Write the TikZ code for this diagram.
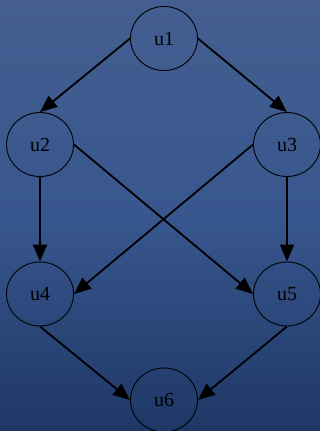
\documentclass[tikz,border=0pt]{standalone}
\usepackage{fontspec}
\setmainfont{Liberation Serif}
\usetikzlibrary{shapes.geometric,arrows.meta}

\definecolor{bgtop}{HTML}{445E90}
\definecolor{bgmid}{HTML}{38578E}
\definecolor{bgbot}{HTML}{1E3766}

\tikzset{
  vertex/.style={ellipse, draw=black, line width=0.9pt, minimum width=67pt,
    minimum height=64pt, inner sep=0pt, font=\fontsize{20}{22}\selectfont},
  edge/.style={line width=1.8pt, draw=black,
    -{Triangle[length=17pt,width=14pt]}},
}

\begin{document}
\begin{tikzpicture}[x=1pt,y=-1pt]
  % backdrop
  \useasboundingbox (0,0) rectangle (320,431);
  \shade[top color=bgtop, bottom color=bgbot, middle color=bgmid]
    (0,0) rectangle (320,431);

  % vertices
  \node[vertex] (u1) at (164,38.5) {u1};
  \node[vertex] (u2) at (40,144.5) {u2};
  \node[vertex] (u3) at (287,144.5) {u3};
  \node[vertex] (u4) at (40,294) {u4};
  \node[vertex] (u5) at (287,294) {u5};
  \node[vertex] (u6) at (164,400) {u6};

  % edges
  \draw[edge] (u1.west) -- (u2.north);
  \draw[edge] (u1.east) -- (u3.north);
  \draw[edge] (u2.south) -- (u4.north);
  \draw[edge] (u2.east) -- (u5.west);
  \draw[edge] (u3.west) -- (u4.east);
  \draw[edge] (u3.south) -- (u5.north);
  \draw[edge] (u4.south) -- (u6.west);
  \draw[edge] (u5.south) -- (u6.east);
\end{tikzpicture}
\end{document}
